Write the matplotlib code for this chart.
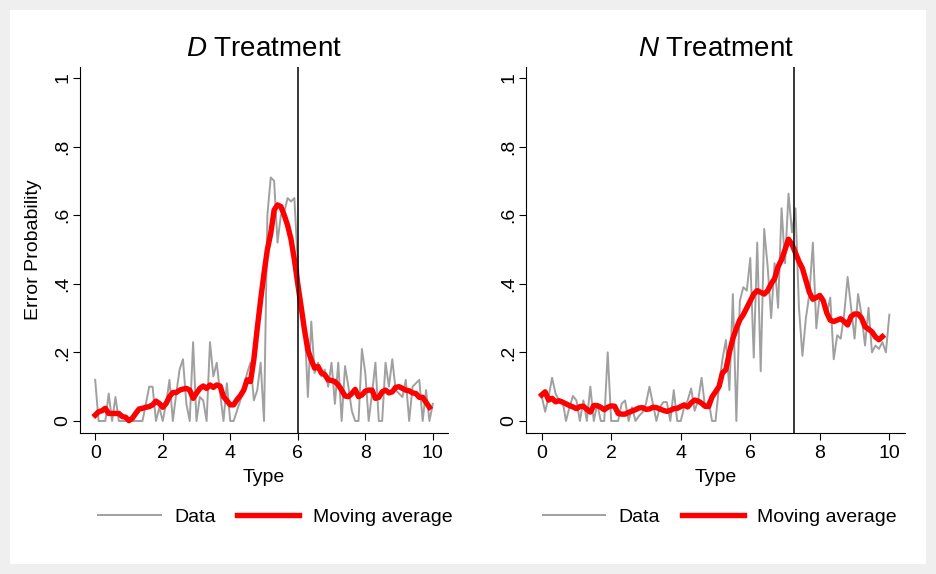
import matplotlib.pyplot as plt
import numpy as np

plt.rcParams['font.family'] = ['Liberation Sans', 'DejaVu Sans']
plt.rcParams['mathtext.fontset'] = 'custom'
plt.rcParams['mathtext.it'] = 'Liberation Sans:italic'
plt.rcParams['mathtext.rm'] = 'Liberation Sans'

# type grid (0, 0.1, ..., 10)
type_grid = np.round(np.arange(101) * 0.1, 1)

# D treatment: raw error probabilities and moving average
d_data = [0.12, 0, 0, 0, 0.08, 0, 0.07, 0, 0, 0,
          0, 0, 0, 0, 0, 0.05, 0.1, 0.1, 0, 0.04, 0,
          0.05, 0.12, 0, 0.08, 0.15, 0.18, 0.05, 0, 0.23, 0,
          0.07, 0.06, 0, 0.23, 0.13, 0.17, 0.08, 0, 0.11, 0,
          0, 0.03, 0.06, 0.1, 0.14, 0.17, 0.06, 0.09, 0.17, 0,
          0.6, 0.71, 0.7, 0.52, 0.6, 0.61, 0.65, 0.64, 0.65, 0.46,
          0.31, 0.29, 0.07, 0.29, 0.14, 0.17, 0.13, 0.15, 0.1, 0.17,
          0.05, 0.17, 0, 0.16, 0.1, 0.03, 0, 0, 0.21, 0.14,
          0, 0.08, 0.17, 0, 0, 0.17, 0.1, 0.18, 0.09, 0.08,
          0.07, 0.12, 0, 0.1, 0.11, 0.12, 0, 0.09, 0, 0.05]
d_mavg = [0.017, 0.027, 0.03, 0.037, 0.022, 0.022, 0.022, 0.022, 0.013, 0.011,
          0.001, 0.008, 0.022, 0.035, 0.037, 0.04, 0.042, 0.047, 0.058, 0.051,
          0.04, 0.051, 0.071, 0.083, 0.083, 0.09, 0.093, 0.095, 0.09, 0.066,
          0.081, 0.095, 0.102, 0.095, 0.105, 0.098, 0.105, 0.102, 0.071, 0.059,
          0.047, 0.047, 0.062, 0.074, 0.09, 0.12, 0.115, 0.18, 0.27, 0.353,
          0.43, 0.5, 0.547, 0.615, 0.63, 0.625, 0.6, 0.57, 0.53, 0.47,
          0.4, 0.333, 0.265, 0.207, 0.178, 0.154, 0.159, 0.14, 0.135, 0.12,
          0.118, 0.115, 0.105, 0.09, 0.073, 0.071, 0.08, 0.092, 0.071, 0.076,
          0.087, 0.09, 0.09, 0.066, 0.069, 0.085, 0.09, 0.082, 0.085, 0.098,
          0.1, 0.095, 0.09, 0.088, 0.082, 0.08, 0.069, 0.069, 0.054, 0.04]

# N treatment
n_data = [0.073, 0.027, 0.07, 0.126, 0.08, 0.06, 0.06, 0, 0.04, 0.073,
          0.06, 0, 0.06, 0, 0.1, 0, 0.05, 0, 0, 0.2,
          0, 0, 0, 0.05, 0.06, 0, 0.04, 0, 0.015, 0.025,
          0.05, 0.1, 0.05, 0, 0.04, 0.055, 0.055, 0, 0.09, 0,
          0, 0.04, 0.06, 0.095, 0.03, 0.06, 0.126, 0.04, 0.06, 0,
          0, 0.1, 0.18, 0.236, 0.09, 0.37, 0, 0.35, 0.39, 0.38,
          0.475, 0.185, 0.52, 0.145, 0.56, 0.45, 0.3, 0.46, 0.33, 0.62,
          0.46, 0.663, 0.55, 0.62, 0.33, 0.19, 0.3, 0.37, 0.52, 0.27,
          0.37, 0.36, 0.31, 0.36, 0.18, 0.25, 0.24, 0.31, 0.42, 0.33,
          0.24, 0.37, 0.31, 0.22, 0.33, 0.2, 0.22, 0.21, 0.23, 0.2,
          0.31]
n_mavg = [0.076, 0.085, 0.061, 0.066, 0.056, 0.059, 0.055, 0.05, 0.045, 0.041,
          0.036, 0.042, 0.043, 0.034, 0.026, 0.045, 0.045, 0.04, 0.033, 0.04,
          0.044, 0.043, 0.022, 0.02, 0.02, 0.025, 0.029, 0.033, 0.038, 0.039,
          0.034, 0.035, 0.04, 0.039, 0.035, 0.031, 0.028, 0.031, 0.036, 0.037,
          0.042, 0.047, 0.041, 0.053, 0.061, 0.058, 0.052, 0.043, 0.042, 0.07,
          0.085, 0.1, 0.14, 0.15, 0.2, 0.24, 0.27, 0.295, 0.31, 0.33,
          0.35, 0.37, 0.38, 0.375, 0.37, 0.38, 0.4, 0.415, 0.45, 0.47,
          0.5, 0.53, 0.515, 0.49, 0.465, 0.445, 0.41, 0.375, 0.355, 0.36,
          0.366, 0.35, 0.315, 0.294, 0.29, 0.294, 0.298, 0.29, 0.28, 0.305,
          0.312, 0.312, 0.3, 0.275, 0.268, 0.26, 0.245, 0.237, 0.246]

d_cutoff = 6.0
n_cutoff = 7.25

y_ticks = [0, 0.2, 0.4, 0.6, 0.8, 1.0]
y_ticklabels = ['0', '.2', '.4', '.6', '.8', '1']
x_ticks = [0, 2, 4, 6, 8, 10]

W, H = 936, 574
fig = plt.figure(figsize=(W / 100, H / 100), dpi=100, facecolor='#efefef')
# white graph region inside the grey frame
fig.patches.append(plt.Rectangle((10 / W, 10 / H), 916 / W, 554 / H,
                                 transform=fig.transFigure, facecolor='white',
                                 edgecolor='none', zorder=-10))


def px_axes(x0, y0, x1, y1):
    return fig.add_axes([x0 / W, 1 - y1 / H, (x1 - x0) / W, (y1 - y0) / H])


panels = [
    (px_axes(80, 67, 448, 433), d_data, d_mavg, d_cutoff, r'$\mathit{D}$ Treatment', 275.5),
    (px_axes(526, 67, 905, 433), n_data, n_mavg, n_cutoff, r'$\mathit{N}$ Treatment', 720),
]

for k, (ax, data, mavg, cutoff, title, leg_x) in enumerate(panels):
    ax.set_facecolor('none')
    l1, = ax.plot(type_grid[:len(data)], data, color='#a0a0a0', lw=1.4, label='Data', zorder=2)
    l2, = ax.plot(type_grid[:len(mavg)], mavg, color='#ff0000', lw=3.9, label='Moving average',
                  zorder=3, solid_joinstyle='round')
    ax.axvline(cutoff, color='black', lw=1.1, zorder=4)

    ax.set_xlim(-0.45, 10.45)
    ax.set_ylim(-0.035, 1.032)
    ax.set_xticks(x_ticks)
    ax.set_yticks(y_ticks)
    ax.set_yticklabels(y_ticklabels, rotation=90, va='center')
    ax.tick_params(axis='both', labelsize=14, length=5, width=0.8, color='black', pad=4)
    ax.tick_params(axis='y', pad=1)
    for s in ['top', 'right']:
        ax.spines[s].set_visible(False)
    for s in ['left', 'bottom']:
        ax.spines[s].set_linewidth(0.8)

    ax.set_xlabel('Type', fontsize=14, labelpad=5)
    if k == 0:
        ax.set_ylabel('Error Probability', fontsize=14, labelpad=9)

    ax.text(0.5, 1.03, title, transform=ax.transAxes, ha='center', va='baseline', fontsize=20)

    ax.legend(handles=[l1, l2], loc='center', ncol=2, frameon=False, fontsize=14,
              bbox_to_anchor=(leg_x / W, 1 - 517 / H), bbox_transform=fig.transFigure,
              handlelength=3.2, handletextpad=0.7, columnspacing=1.1)

fig.savefig('out.png', dpi=100, facecolor=fig.get_facecolor())
